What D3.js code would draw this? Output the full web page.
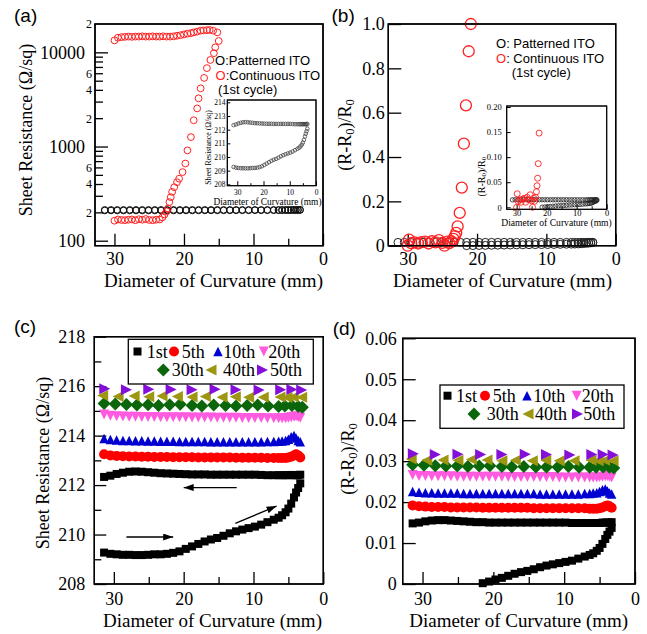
<!DOCTYPE html>
<html><head><meta charset="utf-8">
<script src="https://cdn.jsdelivr.net/npm/d3@7"></script>
<style>html,body{margin:0;padding:0;background:#fff;} svg{display:block;}</style>
</head><body>
<script>
// ================= DATA =================
const xTicksMajor = [30, 20, 10, 0];
const xTicksMinor = [25, 15, 5];
const logTicksMajor = [100, 1000, 10000];
const logTicksMinor = [200, 300, 400, 500, 600, 700, 800, 900, 2000, 3000, 4000, 5000, 6000, 7000, 8000, 9000];
const logMinorLabels = [200, 400, 600, 2000, 4000, 6000, 20000];
const bTicks = [0, 0.2, 0.4, 0.6, 0.8, 1.0];
const cTicksMajor = [208, 210, 212, 214, 216, 218];
const cTicksMinor = [209, 211, 213, 215, 217];
const dTicks = [0, 0.01, 0.02, 0.03, 0.04, 0.05, 0.06];
const iaTicks = [208, 209, 210, 211, 212, 213, 214];
const ibTicks = [0, 0.05, 0.10, 0.15, 0.20];
const legendNames = ["Patterned ITO", "Continuous ITO", "(1st cycle)"];
const cycleLabels = ["1st", "5th", "10th", "20th", "30th", "40th", "50th"];

// measurement diameters (mm) for the dense series
const cyclePos = [31.4, 30.5, 29.6, 28.7, 27.8, 26.9, 26.0, 25.1, 24.2, 23.3, 22.4, 21.5, 20.6, 19.7, 18.8, 17.9, 17.0, 16.1, 15.2, 14.3, 13.4, 12.5, 11.6, 10.7, 9.8, 8.9, 8.0, 7.1, 6.4, 5.9, 5.4, 5.0, 4.6, 4.2, 3.9, 3.6, 3.3];
// Patterned ITO, 1st cycle, sheet resistance (ohm/sq)
const patFwdR = [209.27, 209.22, 209.2, 209.18, 209.18, 209.17, 209.17, 209.18, 209.2, 209.2, 209.22, 209.26, 209.32, 209.42, 209.52, 209.62, 209.72, 209.8, 209.86, 209.95, 210.05, 210.13, 210.2, 210.26, 210.32, 210.4, 210.5, 210.6, 210.68, 210.78, 210.9, 211.05, 211.25, 211.5, 211.7, 211.88, 212.07];
const patRetR = [212.33, 212.38, 212.45, 212.5, 212.54, 212.55, 212.54, 212.52, 212.5, 212.48, 212.47, 212.46, 212.45, 212.44, 212.43, 212.43, 212.43, 212.42, 212.42, 212.42, 212.42, 212.42, 212.42, 212.42, 212.42, 212.41, 212.4, 212.4, 212.4, 212.4, 212.4, 212.4, 212.41, 212.4, 212.4, 212.4, 212.42];
// Patterned ITO, 1st cycle, (R-R0)/R0
const normFwdPos = [21.5, 20.6, 19.7, 18.8, 17.9, 17.0, 16.1, 15.2, 14.3, 13.4, 12.5, 11.6, 10.7, 9.8, 8.9, 8.0, 7.1, 6.4, 5.9, 5.4, 5.0, 4.6, 4.2, 3.9, 3.6, 3.3];
const patFwdNorm = [0.0002, 0.0006, 0.0011, 0.0015, 0.002, 0.0025, 0.0029, 0.0032, 0.0036, 0.0041, 0.0045, 0.0048, 0.0051, 0.0054, 0.0057, 0.0062, 0.0067, 0.0071, 0.0075, 0.0081, 0.0088, 0.0098, 0.011, 0.012, 0.0128, 0.0137];
const patRetNorm = [0.0148, 0.015, 0.0153, 0.0155, 0.0156, 0.0156, 0.0155, 0.0154, 0.0153, 0.0152, 0.0151, 0.0151, 0.015, 0.015, 0.015, 0.015, 0.015, 0.015, 0.015, 0.015, 0.015, 0.015, 0.015, 0.015, 0.015, 0.0149, 0.0149, 0.0149, 0.0149, 0.0149, 0.0149, 0.0149, 0.015, 0.015, 0.015, 0.015, 0.0151];

// Continuous ITO, 1st cycle (ohm/sq)
const contFwdPos = [30.0, 29.5, 29.0, 28.5, 28.0, 27.5, 27.0, 26.5, 26.0, 25.5, 25.0, 24.5, 24.0, 23.5, 23.1, 22.8, 22.5, 22.3, 22.1, 21.9, 21.7, 21.4, 21.0, 20.7, 20.2, 19.8, 19.5, 19.0, 18.6, 18.1, 17.9, 17.6, 17.1, 16.7, 16.2, 15.7, 15.5, 15.0, 15.2];
const contFwdR = [163, 168, 166, 165, 167, 168, 165, 169, 167, 170, 166, 165, 167, 168, 177, 190, 205, 220, 257, 290, 330, 370, 418, 455, 535, 660, 910, 1260, 1900, 2540, 3250, 4150, 5350, 6800, 8300, 9800, 11300, 13200, 16300];
const contRetPos = [15.8, 16.3, 16.7, 17.2, 17.6, 18.1, 18.6, 19.0, 19.5, 20.0, 20.5, 21.0, 21.5, 22.0, 22.5, 23.0, 23.5, 24.0, 24.5, 25.0, 25.5, 26.0, 26.5, 27.0, 27.5, 28.0, 28.5, 29.0, 29.5, 30.0];
const contRetR = [17000, 17300, 17200, 17100, 17000, 16600, 16300, 16000, 15800, 15500, 15200, 15000, 14800, 14700, 14700, 14800, 14700, 14700, 14800, 14700, 14700, 14800, 14700, 14700, 14600, 14700, 14600, 14500, 14300, 13400];
// Continuous ITO, (R-R0)/R0
const contNormPos = [30.0, 29.8, 29.5, 29.0, 28.5, 28.0, 27.5, 27.0, 26.5, 26.0, 25.5, 25.0, 24.7, 24.3, 24.0, 23.7, 23.4, 23.2, 23.0, 22.8, 22.5, 22.2, 21.9, 21.6, 21.2, 20.9];
const contNorm = [0.0, 0.027, 0.012, 0.015, 0.010, 0.016, 0.018, 0.010, 0.020, 0.015, 0.025, 0.013, 0.0, 0.018, 0.012, 0.020, 0.031, 0.043, 0.058, 0.087, 0.148, 0.262, 0.46, 0.633, 0.877, 1.0];

// Patterned ITO, later cycles
const pos30 = [31.4, 29.8, 28.2, 26.7, 25.1, 23.6, 22.0, 20.5, 18.8, 17.4, 15.7, 14.0, 12.5, 10.9, 9.4, 7.9, 6.4, 5.5, 4.5, 3.6, 3.0];
const pos40 = [31.6, 29.4, 27.1, 25.0, 23.1, 20.9, 18.8, 16.9, 14.5, 12.6, 10.7, 8.6, 6.2, 5.2, 4.3, 3.1];
const pos50 = [31.3, 28.2, 25.0, 21.8, 18.8, 15.5, 12.5, 9.2, 6.1, 4.5, 3.1];
const c5 = [213.25, 213.2, 213.18, 213.17, 213.16, 213.16, 213.15, 213.15, 213.14, 213.14, 213.14, 213.13, 213.13, 213.13, 213.13, 213.12, 213.12, 213.12, 213.12, 213.12, 213.12, 213.11, 213.11, 213.11, 213.11, 213.11, 213.1, 213.1, 213.1, 213.1, 213.1, 213.12, 213.15, 213.2, 213.25, 213.2, 213.12];
const c10 = [213.88, 213.84, 213.82, 213.8, 213.8, 213.79, 213.79, 213.78, 213.78, 213.77, 213.77, 213.77, 213.76, 213.76, 213.76, 213.76, 213.76, 213.75, 213.75, 213.75, 213.75, 213.75, 213.75, 213.75, 213.75, 213.75, 213.76, 213.76, 213.77, 213.78, 213.8, 213.85, 213.95, 214.0, 213.9, 213.8, 213.75];
const c20 = [214.85, 214.8, 214.78, 214.77, 214.76, 214.76, 214.75, 214.75, 214.75, 214.74, 214.74, 214.74, 214.74, 214.74, 214.73, 214.73, 214.73, 214.73, 214.72, 214.72, 214.72, 214.72, 214.71, 214.71, 214.71, 214.71, 214.7, 214.7, 214.7, 214.7, 214.7, 214.72, 214.74, 214.76, 214.78, 214.75, 214.72];
const c30 = [215.3, 215.28, 215.26, 215.24, 215.25, 215.22, 215.25, 215.27, 215.22, 215.2, 215.24, 215.22, 215.2, 215.22, 215.24, 215.2, 215.18, 215.2, 215.22, 215.18, 215.15];
const c40 = [215.62, 215.58, 215.6, 215.57, 215.6, 215.58, 215.56, 215.58, 215.55, 215.57, 215.55, 215.55, 215.56, 215.54, 215.56, 215.55];
const c50 = [215.9, 215.85, 215.88, 215.86, 215.85, 215.87, 215.85, 215.84, 215.85, 215.86, 215.84];
const d5 = [0.0192, 0.019, 0.0189, 0.0188, 0.0188, 0.0188, 0.0187, 0.0187, 0.0187, 0.0187, 0.0187, 0.0186, 0.0186, 0.0186, 0.0186, 0.0186, 0.0186, 0.0186, 0.0186, 0.0185, 0.0185, 0.0185, 0.0185, 0.0185, 0.0185, 0.0185, 0.0185, 0.0185, 0.0184, 0.0184, 0.0184, 0.0185, 0.0187, 0.019, 0.0192, 0.019, 0.0186];
const d10 = [0.0226, 0.0224, 0.0223, 0.0223, 0.0222, 0.0222, 0.0222, 0.0222, 0.0221, 0.0221, 0.0221, 0.0221, 0.0221, 0.0221, 0.0221, 0.0221, 0.0221, 0.0221, 0.0221, 0.0221, 0.022, 0.022, 0.022, 0.022, 0.022, 0.022, 0.022, 0.0221, 0.0221, 0.0222, 0.0223, 0.0226, 0.023, 0.0232, 0.0227, 0.0222, 0.022];
const d20 = [0.0266, 0.0264, 0.0264, 0.0263, 0.0263, 0.0263, 0.0263, 0.0262, 0.0262, 0.0262, 0.0262, 0.0262, 0.0262, 0.0262, 0.0262, 0.0261, 0.0261, 0.0261, 0.0261, 0.0261, 0.0261, 0.0261, 0.0261, 0.026, 0.026, 0.026, 0.026, 0.026, 0.026, 0.026, 0.026, 0.0261, 0.0262, 0.0263, 0.0264, 0.0262, 0.026];
const d30 = [0.0291, 0.029, 0.0289, 0.0288, 0.0288, 0.0287, 0.0288, 0.0289, 0.0287, 0.0286, 0.0287, 0.0286, 0.0286, 0.0286, 0.0287, 0.0285, 0.0285, 0.0285, 0.0286, 0.0285, 0.0283];
const d40 = [0.0305, 0.0302, 0.0303, 0.0302, 0.0304, 0.0303, 0.0301, 0.0302, 0.0301, 0.0302, 0.0301, 0.0301, 0.0302, 0.0301, 0.0302, 0.0301];
const d50 = [0.0318, 0.0316, 0.0317, 0.0316, 0.0316, 0.0317, 0.0316, 0.0315, 0.0316, 0.0316, 0.0315];
// arrows in panel (c), data coordinates [x1, y1, x2, y2]
const arrowsC = [[12.4, 211.9, 20.0, 211.9], [28.2, 209.9, 21.5, 209.9], [12.6, 210.45, 6.7, 211.15]];

// ================= STYLE / LAYOUT =================
const W = 647, H = 634;
const SERIF = "'Liberation Serif','Times New Roman',serif";
const SANS = "'Liberation Sans',Arial,sans-serif";
const RED = "#ff2020";
const cycleStyle = [
  {shape: "square", size: 8, color: "#000000"},
  {shape: "circle", size: 5, color: "#ff0000"},
  {shape: "up", size: 9.5, color: "#0000d0"},
  {shape: "down", size: 10, color: "#ff5ae0"},
  {shape: "diamond", size: 13, color: "#0b660b"},
  {shape: "left", size: 11, color: "#9c9610"},
  {shape: "right", size: 11, color: "#8410d8"}
];
const shapes = {
  circle: r => `M${r},0A${r},${r} 0 1,1 ${-r},0A${r},${r} 0 1,1 ${r},0Z`,
  square: s => `M${-s/2},${-s/2}h${s}v${s}h${-s}Z`,
  up: s => `M0,${-s/2}L${s/2},${s/2}L${-s/2},${s/2}Z`,
  down: s => `M${-s/2},${-s/2}L${s/2},${-s/2}L0,${s/2}Z`,
  diamond: s => `M0,${-s/2}L${s/2},0L0,${s/2}L${-s/2},0Z`,
  left: s => `M${-s/2},0L${s/2},${-s/2}L${s/2},${s/2}Z`,
  right: s => `M${s/2},0L${-s/2},${-s/2}L${-s/2},${s/2}Z`
};

const svg = d3.select("body").append("svg").attr("width", W).attr("height", H);
svg.append("rect").attr("width", W).attr("height", H).attr("fill", "#fff");
const defs = svg.append("defs");
defs.append("marker").attr("id", "ah").attr("viewBox", "0 0 10 7")
  .attr("refX", 10).attr("refY", 3.5).attr("markerWidth", 10).attr("markerHeight", 7)
  .attr("markerUnits", "userSpaceOnUse").attr("orient", "auto")
  .append("path").attr("d", "M0,0L10,3.5L0,7Z").attr("fill", "#000");

// scales
const xa = d3.scaleLinear([32.8, 0], [95, 323]);
const ya = d3.scaleLog([88.5, 20000], [245.7, 24]);
const xb = d3.scaleLinear([32.8, 0], [388.3, 615.7]);
const yb = d3.scaleLinear([0, 1], [245.7, 24]);
const xc = d3.scaleLinear([32.8, 0], [94.3, 323.3]);
const yc = d3.scaleLinear([208, 218], [584, 336.7]);
const xd = d3.scaleLinear([32.8, 0], [402.7, 635]);
const yd = d3.scaleLinear([0, 0.06], [584, 338.3]);
const xia = d3.scaleLinear([33.8, 0], [227.3, 316]);
const yia = d3.scaleLinear([207.9, 214.17], [185.7, 100]);
const xib = d3.scaleLinear([33.3, 0], [506.7, 606.7]);
const yib = d3.scaleLinear([-0.004, 0.202], [209.3, 106]);

function frame(x, y, sw) {
  const [L, R] = x.range(), [B, T] = y.range();
  svg.append("rect").attr("x", L).attr("y", T).attr("width", R - L).attr("height", B - T)
    .attr("fill", "#fff").attr("stroke", "#000").attr("stroke-width", sw);
}
function frameOutline(x, y, sw) {
  const [L, R] = x.range(), [B, T] = y.range();
  svg.append("rect").attr("x", L).attr("y", T).attr("width", R - L).attr("height", B - T)
    .attr("fill", "none").attr("stroke", "#000").attr("stroke-width", sw);
}
function axis(orient, scale, pos, vals, len, o = {}) {
  const gen = (orient === "bottom" ? d3.axisBottom : d3.axisLeft)(scale)
    .tickValues(vals).tickSizeInner(-len).tickSizeOuter(0)
    .tickPadding(o.pad ?? 0).tickFormat(o.fmt || (() => ""));
  const ag = svg.append("g")
    .attr("transform", orient === "bottom" ? `translate(0,${pos})` : `translate(${pos},0)`)
    .call(gen);
  ag.select(".domain").remove();
  ag.selectAll(".tick line").attr("stroke", "#000").attr("stroke-width", o.sw ?? 1.3);
  ag.selectAll(".tick text").attr("font-family", o.font || SERIF).attr("font-size", o.fs ?? 18).attr("fill", "#000");
  return ag;
}
function points(xs, ys, x, y, shape, size, st) {
  const pts = d3.zip(xs, ys).filter(d => !st.clip || (d[1] >= y.domain()[0] && d[1] <= y.domain()[1]));
  svg.append("g").selectAll("path").data(pts).join("path")
    .attr("d", shapes[shape](size))
    .attr("transform", d => `translate(${x(d[0])},${y(d[1])})`)
    .attr("fill", st.fill || "none").attr("stroke", st.stroke || "none")
    .attr("stroke-width", st.sw || 1);
}
function text(x, y, str, o = {}) {
  return svg.append("text").attr("x", x).attr("y", y).text(str)
    .attr("font-family", o.font || SERIF).attr("font-size", o.fs || 18)
    .attr("text-anchor", o.anchor || "start").attr("fill", o.fill || "#000");
}
function yTitle(cx, cy, fs, parts) {
  const t = svg.append("text").attr("transform", `translate(${cx},${cy}) rotate(-90)`)
    .attr("text-anchor", "middle").attr("dominant-baseline", "central")
    .attr("font-family", SERIF).attr("font-size", fs);
  parts.forEach(p => {
    const s = t.append("tspan").text(p.t);
    if (p.sub) s.attr("font-size", fs * 0.7).attr("dy", fs * 0.28);
    if (p.after) s.attr("dy", -fs * 0.28);
  });
}
const fmtX = d3.format("d");
const xTitle = "Diameter of Curvature (mm)";

// ================= PANEL (a) =================
frame(xa, ya, 1.4);
axis("bottom", xa, 245.7, xTicksMajor, 12, {pad: 6.5, fmt: fmtX});
axis("bottom", xa, 245.7, xTicksMinor, 7);
axis("left", ya, 95, logTicksMajor, 13, {pad: 10, fmt: d3.format("d")});
axis("left", ya, 95, logTicksMinor, 8);
axis("left", ya, 95, logMinorLabels, 0, {pad: 3, fs: 12, fmt: d => String(d).charAt(0)});
points([...cyclePos, ...cyclePos], [...patFwdR, ...patRetR], xa, ya, "circle", 3.3, {stroke: "#111", sw: 1});
points([...contFwdPos, ...contRetPos], [...contFwdR, ...contRetR], xa, ya, "circle", 3.4, {stroke: RED, sw: 1});
frameOutline(xa, ya, 1.4);
text(14, 21.7, "(a)", {font: SANS, fs: 19});
text(213.5, 287, xTitle, {anchor: "middle", fs: 19});
yTitle(26, 130, 18, [{t: "Sheet Resistance (\u03A9/sq)"}]);
{
  const l1 = text(215, 65, "", {font: SANS, fs: 13});
  l1.append("tspan").text("O");
  l1.append("tspan").text(":" + legendNames[0]);
  const l2 = text(215.5, 80, "", {font: SANS, fs: 13});
  l2.append("tspan").attr("fill", RED).text("O");
  l2.append("tspan").text(":" + legendNames[1]);
  text(218, 94.3, legendNames[2], {font: SANS, fs: 13});
}
// inset (a)
frame(xia, yia, 1);
axis("bottom", xia, 185.7, xTicksMajor, 4.5, {pad: 3.8, fs: 7.5, sw: 1, fmt: fmtX});
axis("bottom", xia, 185.7, xTicksMinor, 2.5, {sw: 1});
axis("left", yia, 227.3, iaTicks, 3, {pad: 1.8, fs: 7.5, sw: 1, fmt: d3.format("d")});
points([...cyclePos, ...cyclePos], [...patFwdR, ...patRetR], xia, yia, "circle", 1.8, {stroke: "#444", sw: 0.8});
frameOutline(xia, yia, 1);
text(267.5, 205, xTitle, {anchor: "middle", fs: 9.4});
yTitle(207.5, 147.5, 7.8, [{t: "Sheet Resistance (\u03A9/sq)"}]);

// ================= PANEL (b) =================
frame(xb, yb, 1.4);
axis("bottom", xb, 245.7, xTicksMajor, 12, {pad: 6.5, fmt: fmtX});
axis("bottom", xb, 245.7, xTicksMinor, 7);
axis("left", yb, 388.3, bTicks, 13, {pad: 3.5, fmt: d => d === 0 ? "0" : d3.format(".1f")(d)});
points([...normFwdPos, ...cyclePos], [...patFwdNorm, ...patRetNorm], xb, yb, "circle", 4, {stroke: "#222", sw: 1});
points(contNormPos, contNorm, xb, yb, "circle", 5.5, {stroke: RED, sw: 1.3});
frameOutline(xb, yb, 1.4);
text(331.5, 21.7, "(b)", {font: SANS, fs: 19});
text(502.5, 287.3, xTitle, {anchor: "middle", fs: 19});
yTitle(345, 135, 18, [{t: "(R-R"}, {t: "0", sub: true}, {t: ")/R", after: true}, {t: "0", sub: true}]);
{
  const l1 = text(496, 47.7, "", {font: SANS, fs: 13});
  l1.append("tspan").text("O");
  l1.append("tspan").text(": " + legendNames[0]);
  const l2 = text(496, 62.7, "", {font: SANS, fs: 13});
  l2.append("tspan").attr("fill", RED).text("O");
  l2.append("tspan").text(": " + legendNames[1]);
  text(511.7, 76.7, legendNames[2], {font: SANS, fs: 13});
}
// inset (b)
frame(xib, yib, 1);
axis("bottom", xib, 209.3, xTicksMajor, 5, {pad: 0.2, fs: 8.5, sw: 1, fmt: fmtX});
axis("bottom", xib, 209.3, xTicksMinor, 3, {sw: 1});
axis("left", yib, 506.7, ibTicks, 4, {pad: 5, fs: 8.5, sw: 1, fmt: d => d === 0 ? "0" : d3.format(".2f")(d)});
points([...normFwdPos, ...cyclePos], [...patFwdNorm, ...patRetNorm], xib, yib, "circle", 2.2, {stroke: "#222", sw: 0.8, clip: true});
points(contNormPos, contNorm, xib, yib, "circle", 3, {stroke: RED, sw: 0.9, clip: true});
frameOutline(xib, yib, 1);
text(556.5, 226, xTitle, {anchor: "middle", fs: 9.6});
yTitle(481, 176.7, 10, [{t: "(R-R"}, {t: "0", sub: true}, {t: ")/R", after: true}, {t: "0", sub: true}]);

// ================= PANELS (c) and (d) =================
const seriesC = [
  [[...cyclePos, ...cyclePos], [...patFwdR, ...patRetR]],
  [cyclePos, c5], [cyclePos, c10], [cyclePos, c20], [pos30, c30], [pos40, c40], [pos50, c50]
];
const seriesD = [
  [[...normFwdPos, ...cyclePos], [...patFwdNorm, ...patRetNorm]],
  [cyclePos, d5], [cyclePos, d10], [cyclePos, d20], [pos30, d30], [pos40, d40], [pos50, d50]
];
function cyclePanel(x, y, series) {
  series.forEach((s, i) => {
    const st = cycleStyle[i];
    points(s[0], s[1], x, y, st.shape, st.size, {fill: st.color});
  });
}
function legendBox(box, items) {
  svg.append("rect").attr("x", box[0]).attr("y", box[1]).attr("width", box[2] - box[0]).attr("height", box[3] - box[1])
    .attr("fill", "#fff").attr("stroke", "#000").attr("stroke-width", 1.3);
  items.forEach((it, i) => {
    const st = cycleStyle[i];
    svg.append("path").attr("d", shapes[st.shape](st.size)).attr("transform", `translate(${it[0]},${it[1] - 6})`).attr("fill", st.color);
    text(it[2], it[1], cycleLabels[i], {fs: 18});
  });
}

frame(xc, yc, 1.4);
axis("bottom", xc, 584, xTicksMajor, 12, {pad: 8.2, fmt: fmtX});
axis("bottom", xc, 584, xTicksMinor, 7);
axis("left", yc, 94.3, cTicksMajor, 12, {pad: 9, fmt: d3.format("d")});
axis("left", yc, 94.3, cTicksMinor, 7);
cyclePanel(xc, yc, seriesC);
arrowsC.forEach(a => {
  svg.append("line").attr("x1", xc(a[0])).attr("y1", yc(a[1])).attr("x2", xc(a[2])).attr("y2", yc(a[3]))
    .attr("stroke", "#000").attr("stroke-width", 1.3).attr("marker-end", "url(#ah)");
});
legendBox([128.3, 339.3, 313.3, 384], [
  [137.5, 357.5, 146.7], [174, 357.5, 181.7], [218, 357.5, 223.3], [263.8, 357.5, 268.3],
  [163.3, 376, 171.7], [211, 376, 223], [262.5, 376, 270]
]);
frameOutline(xc, yc, 1.4);
text(14, 333, "(c)", {font: SANS, fs: 19});
text(212.5, 626.7, xTitle, {anchor: "middle", fs: 19});
yTitle(42.5, 463, 18, [{t: "Sheet Resistance (\u03A9/sq)"}]);

frame(xd, yd, 1.4);
axis("bottom", xd, 584, xTicksMajor, 12, {pad: 8.2, fmt: fmtX});
axis("bottom", xd, 584, xTicksMinor, 7);
axis("left", yd, 402.7, dTicks, 13, {pad: 6, fmt: d => d === 0 ? "0" : d3.format(".2f")(d)});
cyclePanel(xd, yd, seriesD);
legendBox([440, 385, 624, 428.3], [
  [447.5, 401.7, 456], [485, 401.7, 492.7], [527, 401.7, 533.3], [576.7, 401.7, 581.7],
  [474, 420, 486.7], [528, 420, 535], [577.5, 420, 583.3]
]);
frameOutline(xd, yd, 1.4);
text(332.7, 335, "(d)", {font: SANS, fs: 19});
text(518.7, 626.7, xTitle, {anchor: "middle", fs: 19});
yTitle(347.5, 459, 18, [{t: "(R-R"}, {t: "0", sub: true}, {t: ")/R", after: true}, {t: "0", sub: true}]);
</script>
</body></html>
